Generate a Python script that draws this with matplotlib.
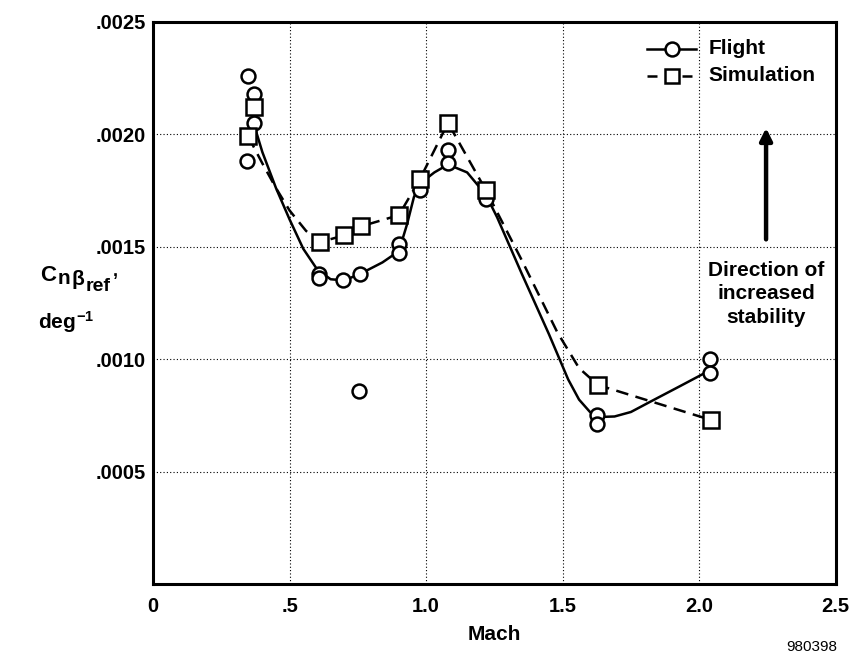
# -*- coding: utf-8 -*-
"""Directional stability derivative vs. Mach, flight and simulation."""

# *****************************************************************************
# *** Import modules
import matplotlib
matplotlib.use('Agg')
import matplotlib.pyplot as plt
# *****************************************************************************


# *****************************************************************************
# *** Data

# Flight data points:
vecFltMach = [0.348, 0.370, 0.370, 0.344,
              0.608, 0.608, 0.695, 0.758, 0.754, 0.900, 0.900,
              0.977, 0.977, 1.080, 1.080, 1.219, 1.219,
              1.625, 1.625, 2.039, 2.039]
vecFltCn = [0.00226, 0.00218, 0.00205, 0.00188,
            0.00138, 0.00136, 0.00135, 0.00138, 0.00086, 0.00151, 0.00147,
            0.00178, 0.00175, 0.00193, 0.00187, 0.00172, 0.00171,
            0.00075, 0.00071, 0.00100, 0.00094]

# Faired flight curve:
vecFairFltMach = [0.370, 0.400, 0.450, 0.500, 0.550, 0.600, 0.650, 0.700,
                  0.760, 0.840, 0.900, 0.930, 0.955, 0.977, 1.030, 1.080,
                  1.150, 1.219, 1.260, 1.350, 1.450, 1.520, 1.560, 1.600,
                  1.640, 1.690, 1.750, 1.820, 1.930, 2.039]
vecFairFltCn = [0.00204, 0.00192, 0.00176, 0.00162, 0.00149, 0.00140,
                0.001355, 0.00135, 0.00138, 0.00143, 0.00148, 0.00160,
                0.00172, 0.00178, 0.00183, 0.001865, 0.00183, 0.00173,
                0.00163, 0.00138, 0.00111, 0.00091, 0.00082, 0.000765,
                0.000743, 0.000745, 0.000765, 0.00081, 0.00088, 0.00095]

# Simulation points:
vecSimMach = [0.348, 0.370, 0.611, 0.699, 0.761, 0.900,
              0.977, 1.080, 1.219, 1.629, 2.042]
vecSimCn = [0.00199, 0.00212, 0.00152, 0.00155, 0.00159, 0.00164,
            0.00180, 0.00205, 0.00175, 0.000885, 0.00073]

# Faired simulation curve:
vecFairSimMach = [0.348, 0.400, 0.450, 0.500, 0.560, 0.611, 0.699, 0.761,
                  0.900, 0.977, 1.080, 1.219, 1.350, 1.480, 1.560, 1.629,
                  2.042]
vecFairSimCn = [0.00199, 0.00187, 0.00176, 0.00166, 0.00157, 0.00152,
                0.00155, 0.00159, 0.00164, 0.00180, 0.00205, 0.00175,
                0.00144, 0.00112, 0.00096, 0.000885, 0.00073]

# Tick labels:
vecXtck = [0.0, 0.5, 1.0, 1.5, 2.0, 2.5]
lstXlbl = ['0', '.5', '1.0', '1.5', '2.0', '2.5']
vecYtck = [0.0, 0.0005, 0.0010, 0.0015, 0.0020, 0.0025]
lstYlbl = ['', '.0005', '.0010', '.0015', '.0020', '.0025']

# Pieces of the y-axis label (text, font size, baseline drop in px):
lstYlabPcs = [('C', 16, 0), ('n', 15, 3), ('\u03b2', 15, 4),
              ('ref', 14, 10), (',', 13, -5)]
# *****************************************************************************


# *****************************************************************************
# *** Plot

plt.rcParams['font.family'] = ['Liberation Sans', 'DejaVu Sans']
plt.rcParams['font.weight'] = 'bold'
plt.rcParams['mathtext.fontset'] = 'custom'
plt.rcParams['mathtext.rm'] = 'Liberation Sans:bold'
plt.rcParams['mathtext.it'] = 'Liberation Sans:bold'
plt.rcParams['mathtext.bf'] = 'Liberation Sans:bold'

varDpi = 100.0
varSizeX = 851.0
varSizeY = 657.0
fgr01 = plt.figure(figsize=(varSizeX / varDpi, varSizeY / varDpi), dpi=varDpi)
axs01 = fgr01.add_axes([0.180, 0.111, 0.802, 0.856])

# Faired curves:
axs01.plot(vecFairFltMach, vecFairFltCn, color='k', linewidth=1.8,
           linestyle='-', zorder=3)
axs01.plot(vecFairSimMach, vecFairSimCn, color='k', linewidth=1.8,
           linestyle=(0, (5, 3)), zorder=3)

# Data symbols:
axs01.plot(vecFltMach, vecFltCn, linestyle='none', marker='o',
           markersize=10, markerfacecolor='w', markeredgecolor='k',
           markeredgewidth=1.8, zorder=4)
axs01.plot(vecSimMach, vecSimCn, linestyle='none', marker='s',
           markersize=11, markerfacecolor='w', markeredgecolor='k',
           markeredgewidth=1.8, zorder=5)

# Axis ranges & ticks:
axs01.set_xlim([0.0, 2.5])
axs01.set_ylim([0.0, 0.0025])
axs01.set_xticks(vecXtck)
axs01.set_xticklabels(lstXlbl)
axs01.set_yticks(vecYtck)
axs01.set_yticklabels(lstYlbl)
axs01.tick_params(axis='both', length=0, labelsize=14.5)
axs01.tick_params(axis='x', pad=9)
axs01.tick_params(axis='y', pad=5)
for objLbl in axs01.get_xticklabels() + axs01.get_yticklabels():
    objLbl.set_fontweight('bold')

# Grid:
axs01.grid(True, color='k', linestyle=(0, (1, 2)), linewidth=0.8)

for strTmp in ['top', 'bottom', 'left', 'right']:
    axs01.spines[strTmp].set_linewidth(2.2)

# Labels:
axs01.set_xlabel('Mach', fontsize=15, fontweight='bold', labelpad=7)

# y-axis label built piece by piece (pixel coords from top-left):
objRnd = fgr01.canvas.get_renderer()
varPosX = 40.0
varBase = 281.0
for strPc, varFs, varDrop in lstYlabPcs:
    objTxt = fgr01.text(varPosX / varSizeX,
                        1.0 - (varBase + varDrop) / varSizeY,
                        strPc, fontsize=varFs, fontweight='bold',
                        ha='left', va='baseline')
    varPosX = objTxt.get_window_extent(renderer=objRnd).x1 + 1.5

fgr01.text(66.0 / varSizeX, 1.0 - 322.0 / varSizeY, r'$deg^{-1}$',
           fontsize=15, ha='center', va='center')
fgr01.text(837.0 / varSizeX, 1.0 - 651.0 / varSizeY, '980398',
           fontsize=11, fontweight='normal', ha='right', va='baseline')

# Legend (drawn manually):
varLgY1 = 0.00238
varLgY2 = 0.00226
axs01.plot([1.81, 1.99], [varLgY1, varLgY1], color='k', linewidth=1.8)
axs01.plot([1.90], [varLgY1], marker='o', markersize=10,
           markerfacecolor='w', markeredgecolor='k', markeredgewidth=1.8)
axs01.text(2.035, varLgY1, 'Flight', fontsize=15, fontweight='bold',
           va='center', ha='left')
axs01.plot([1.81, 1.99], [varLgY2, varLgY2], color='k', linewidth=1.8,
           linestyle=(0, (4, 3)))
axs01.plot([1.90], [varLgY2], marker='s', markersize=10,
           markerfacecolor='w', markeredgecolor='k', markeredgewidth=1.8)
axs01.text(2.035, varLgY2, 'Simulation', fontsize=15, fontweight='bold',
           va='center', ha='left')

# Arrow & annotation:
axs01.annotate('', xy=(2.245, 0.00204), xytext=(2.245, 0.00152),
               arrowprops=dict(arrowstyle='-|>', color='k', linewidth=3.2,
                               mutation_scale=18))
axs01.text(2.245, 0.00129, 'Direction of\nincreased\nstability',
           fontsize=15, fontweight='bold', ha='center', va='center',
           linespacing=1.3)

fgr01.savefig('out.png', dpi=varDpi, facecolor='w')
plt.close(fgr01)
# *****************************************************************************
